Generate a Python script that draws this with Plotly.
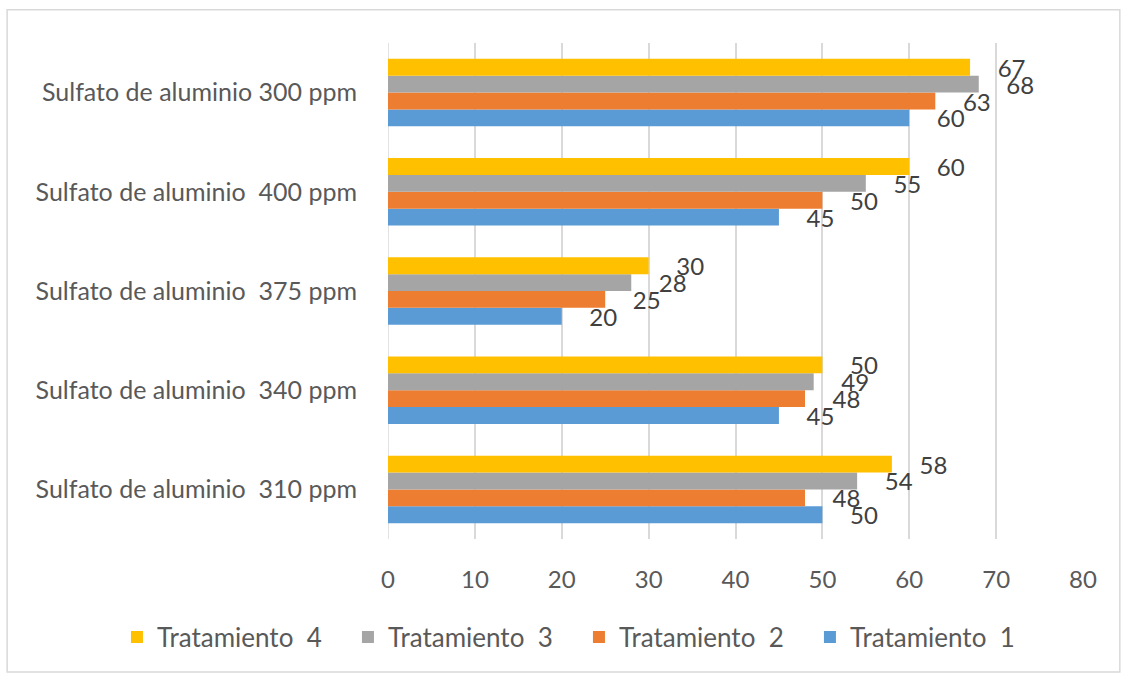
import plotly.graph_objects as go

categories = [
    "Sulfato de aluminio\u00a0\u00a0310 ppm",
    "Sulfato de aluminio\u00a0\u00a0340 ppm",
    "Sulfato de aluminio\u00a0\u00a0375 ppm",
    "Sulfato de aluminio\u00a0\u00a0400 ppm",
    "Sulfato de aluminio 300 ppm",
]
series_names = ["Tratamiento  1", "Tratamiento  2", "Tratamiento  3", "Tratamiento  4"]
tratamiento_1 = [50, 45, 20, 45, 60]
tratamiento_2 = [48, 48, 25, 50, 63]
tratamiento_3 = [54, 49, 28, 55, 68]
tratamiento_4 = [58, 50, 30, 60, 67]
x_ticks = [0, 10, 20, 30, 40, 50, 60, 70, 80]

colors = ["#5B9BD5", "#ED7D31", "#A5A5A5", "#FFC000"]
FONT = "Lato"
TXT = "#595959"

fig = go.Figure()
for name, vals, col in zip(series_names,
                           [tratamiento_1, tratamiento_2, tratamiento_3, tratamiento_4],
                           colors):
    fig.add_trace(go.Bar(
        y=categories, x=vals, name=name.replace("  ", "\u00a0\u00a0"), orientation="h",
        marker=dict(color=col, line=dict(width=0)),
        text=vals, texttemplate="\u00a0\u00a0\u00a0\u00a0%{x}",
        textposition="outside", constraintext="none", cliponaxis=False,
        textfont=dict(family=FONT, size=24, color="#404040"),
    ))

fig.update_layout(
    width=1128, height=680,
    paper_bgcolor="white", plot_bgcolor="white",
    margin=dict(l=388, r=45, t=43, b=141),
    barmode="group", bargap=0.32, bargroupgap=0,
    font=dict(family=FONT, color=TXT, size=22),
    xaxis=dict(range=[0, 80], tickvals=x_ticks, showgrid=True,
               gridcolor="#D9D9D9", gridwidth=1.5, zeroline=False,
               showline=False, ticks="", ticklabelstandoff=24,
               tickfont=dict(family=FONT, size=24, color=TXT)),
    yaxis=dict(categoryorder="array", categoryarray=categories,
               showgrid=False, zeroline=False, showline=False, ticks="",
               ticklabelstandoff=30,
               tickfont=dict(family=FONT, size=25, color=TXT)),
    legend=dict(orientation="h", traceorder="reversed",
                x=-0.39, xanchor="left", y=-0.198, yanchor="middle",
                bgcolor="rgba(0,0,0,0)",
                font=dict(family=FONT, size=26, color=TXT),
                itemwidth=30, entrywidth=186, entrywidthmode="pixels"),
    showlegend=True,
    shapes=[dict(type="rect", xref="paper", yref="paper",
                 x0=-0.548, x1=1.053, y0=-0.268, y1=1.067,
                 line=dict(color="#D9D9D9", width=1.5), layer="below")],
)
fig.add_vline(x=0, line=dict(color="#D9D9D9", width=1.5), layer="below")

fig.write_html("out.html")
